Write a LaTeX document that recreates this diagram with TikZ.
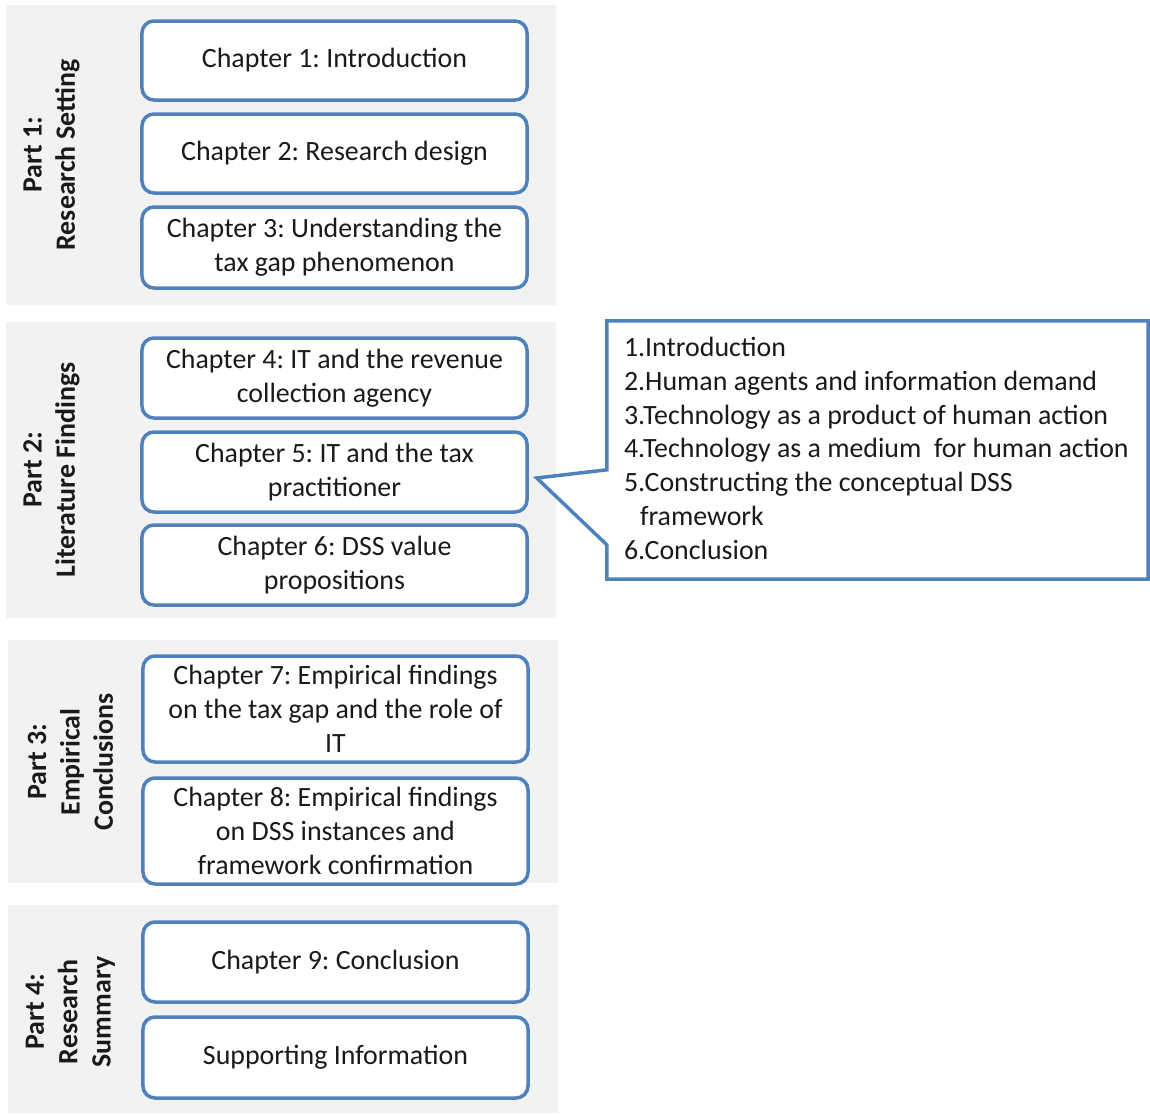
\documentclass[tikz,border=0pt]{standalone}
\usepackage{fontspec}
\setmainfont{Carlito}
\frenchspacing
\usetikzlibrary{calc}
\definecolor{frame}{HTML}{4F81BD}
\definecolor{panel}{HTML}{F2F2F2}
\definecolor{ink}{HTML}{1A1A1A}
\begin{document}
\begin{tikzpicture}[x=1bp,y=-1bp,
  panelbox/.style={fill=panel, draw=none, inner sep=0, anchor=north west, minimum width=550bp},
  chap/.style={draw=frame, line width=3.5bp, fill=white, rounded corners=12bp,
    minimum width=385bp, align=center, inner sep=0, text=ink,
    font=\fontsize{28}{34}\selectfont},
  partlbl/.style={rotate=90, align=center, text=ink,
    font=\bfseries\fontsize{28}{33.5}\selectfont},
  calloutline/.style={draw=frame, line width=3.5bp, fill=white, line join=miter}]
\useasboundingbox (0,0) rectangle (1150,1115);

% grey panels for the four parts
\node[panelbox, minimum height=300bp] (p1) at (6,5) {};
\node[panelbox, minimum height=296bp] (p2) at (6,322) {};
\node[panelbox, minimum height=243bp] (p3) at (8,640) {};
\node[panelbox, minimum height=208bp] (p4) at (8,905) {};

% part titles
\node[partlbl] (l1) at (51.5,155) {Part 1:\\Research Setting};
\node[partlbl] (l2) at (51.5,470) {Part 2:\\Literature Findings};
\node[partlbl] (l3) at (70.5,762) {Part 3:\\Empirical\\Conclusions};
\node[partlbl] (l4) at (70.5,1012) {Part 4:\\Research\\Summary};

% chapters
\node[chap, minimum height=79bp] (c1) at (334.5,60.5) {Chapter 1: Introduction};
\node[chap, minimum height=79bp] (c2) at (334.5,153.5) {Chapter 2: Research design};
\node[chap, minimum height=81bp] (c3) at (334.5,247.5) {Chapter 3: Understanding the\\tax gap phenomenon};
\node[chap, minimum height=80bp] (c4) at (334.5,378) {Chapter 4: IT and the revenue\\collection agency};
\node[chap, minimum height=80bp] (c5) at (334.5,472) {Chapter 5: IT and the tax\\practitioner};
\node[chap, minimum height=80bp] (c6) at (334.5,565) {Chapter 6: DSS value\\propositions};
\node[chap, minimum height=106bp] (c7) at (335.5,709) {Chapter 7: Empirical findings\\on the tax gap and the role of\\IT};
\node[chap, minimum height=106bp] (c8) at (335.5,831) {Chapter 8: Empirical findings\\on DSS instances and\\framework confirmation};
\node[chap, minimum height=80bp] (c9) at (335.5,962) {Chapter 9: Conclusion};
\node[chap, minimum height=81bp] (c10) at (335.5,1057.5) {Supporting Information};

% callout listing the sections of chapter 5
\node[minimum width=541bp, minimum height=258bp, inner sep=0] (cl) at (877.5,450) {};
\coordinate (tip) at ($(c5.east)+(8,6)$);
\path[calloutline] (cl.north west) -- (cl.north east) -- (cl.south east) -- (cl.south west)
  -- ($(cl.north west)+(0,224)$) -- (tip) -- ($(cl.north west)+(0,149)$) -- cycle;
\node[anchor=north west, align=left, inner sep=0, text=ink,
  font=\fontsize{28}{34}\selectfont] (items) at ($(cl.north west)+(17,16)$)
  {1.Introduction\\
   2.Human agents and information demand\\
   3.Technology as a product of human action\\
   4.Technology as a medium\ \ for human action\\
   5.Constructing the conceptual DSS\\
   \hspace*{16bp}framework\\
   6.Conclusion};
\end{tikzpicture}
\end{document}
